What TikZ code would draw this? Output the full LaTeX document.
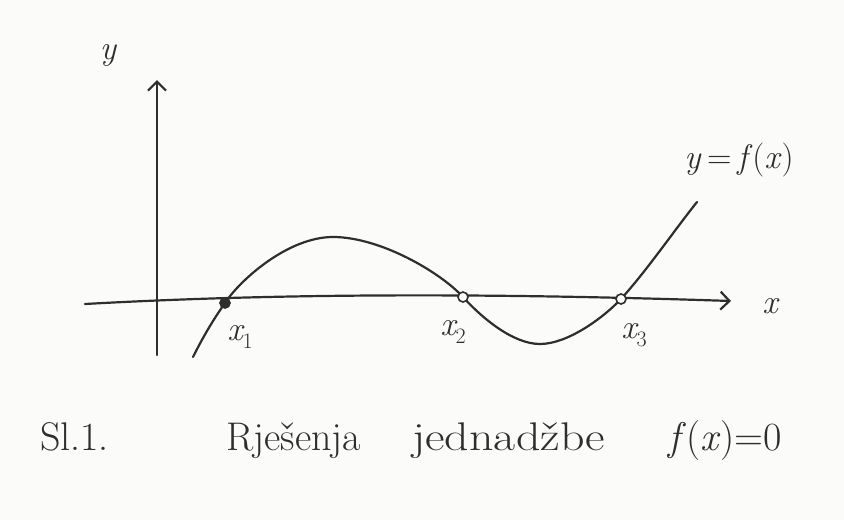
\documentclass[tikz,border=0pt]{standalone}
\usepackage{fontspec}
\usetikzlibrary{arrows.meta}
\definecolor{ink}{HTML}{2E2E2E}
\definecolor{paper}{HTML}{FBFBF9}
\newcommand{\lowidx}[1]{\raisebox{-0.22em}{\fontsize{22}{24}\selectfont\upshape #1}}
\begin{document}
\begin{tikzpicture}[x=1pt,y=-1pt,
  inkline/.style={draw=ink,line width=2.2pt,line cap=round,line join=round},
  axisline/.style={inkline,-{Straight Barb[length=9pt,width=18pt,line width=2.2pt]}},
  lbl/.style={text=ink,font=\fontsize{34}{36}\selectfont\itshape,inner sep=0pt},
  captext/.style={text=ink,font=\fontsize{40}{42}\selectfont,inner sep=0pt,anchor=base west},
  root/.style={circle,draw=ink,line width=1.6pt,minimum size=10pt,inner sep=0pt,fill=paper},
  rootfilled/.style={root,fill=ink}]
\fill[paper] (0,0) rectangle (844,520);
\useasboundingbox (0,0) rectangle (844,520);
% axes
\coordinate (ybot) at (157,355);
\coordinate (ytop) at (157,80);
\coordinate (xleft) at (85,304);
\coordinate (xright) at (731,301);
\draw[axisline] (ybot) -- (ytop);
\draw[axisline] (xleft) .. controls (300,292) and (520,294) .. (xright);
% roots and extremes
\coordinate (cstart) at (193,357);
\coordinate (p1) at (225,303);
\coordinate (peak) at (333,237);
\coordinate (p2) at (463,297);
\coordinate (vmin) at (540,344);
\coordinate (p3) at (621,299);
\coordinate (cend) at (697,202);
% curve
\draw[inkline] (cstart) .. controls (203,337) and (213,320) .. (p1)
  .. controls (240,280) and (288,237) .. (peak)
  .. controls (380,237) and (440,272) .. (p2)
  .. controls (482,318) and (513,344) .. (vmin)
  .. controls (567,344) and (602,319) .. (p3)
  .. controls (648,269) and (673,232) .. (cend);
\node[rootfilled] (r1) at (p1) {};
\node[root] (r2) at (p2) {};
\node[root] (r3) at (p3) {};
% labels
\node[lbl] (ylab) at (108,55) {y};
\node[lbl] (xlab) at (770,306) {x};
\node[lbl] (l1) at (240,337) {x\lowidx{1}};
\node[lbl] (l2) at (453,332) {x\lowidx{2}};
\node[lbl] (l3) at (634,335) {x\lowidx{3}};
\node[lbl,font=\fontsize{34}{36}\selectfont] (flab) at (739,160) {\textit{y}\,=\,\textit{f}(\textit{x})};
% caption
\node[captext] (c1) at (40,450) {Sl.1.};
\node[captext] (c2) at (226,450) {Rješenja};
\node[captext] (c3) at (412,450) {\scalebox{1.2}[1]{jednadžbe}};
\node[captext] (c4) at (668,450) {\textit{f}(\textit{x})=0};
\end{tikzpicture}
\end{document}
